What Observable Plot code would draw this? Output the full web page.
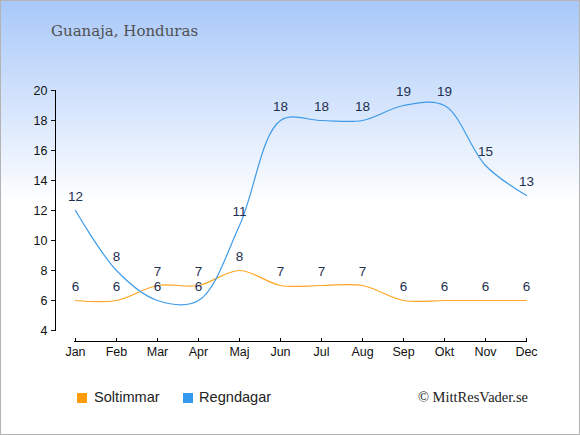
<!DOCTYPE html>
<html><head><meta charset="utf-8">
<script src="https://cdn.jsdelivr.net/npm/d3@7"></script>
<script src="https://cdn.jsdelivr.net/npm/@observablehq/plot@0.6"></script>
<style>
body{margin:0;}
#wrap{position:relative;width:580px;height:435px;overflow:hidden;background:linear-gradient(to bottom,#a8c8f9 0%,#ffffff 47%,#ffffff 100%);font-family:"Liberation Sans",Arial,sans-serif;}
#chart{position:absolute;left:0;top:0;}
#title{position:absolute;left:51px;top:22px;font-family:"DejaVu Serif",serif;font-size:15px;color:#505050;}
.sq{position:absolute;width:10px;height:10px;top:393px;}
.lt{position:absolute;top:389px;font-size:14.6px;color:#222;}
#copy{position:absolute;right:52px;top:389px;font-family:"Liberation Serif",serif;font-size:14.5px;color:#222;}
#border{position:absolute;left:0;top:0;width:580px;height:435px;box-sizing:border-box;border:1px solid #b4b4b4;pointer-events:none;}
</style></head><body>
<div id="wrap">
  <div id="chart"></div>
  <div id="title">Guanaja, Honduras</div>
  <div class="sq" style="left:77px;background:#ff9c0a"></div>
  <div class="lt" style="left:94px">Soltimmar</div>
  <div class="sq" style="left:183px;background:#3399ee"></div>
  <div class="lt" style="left:199px">Regndagar</div>
  <div id="copy">© MittResVader.se</div>
  <div id="border"></div>
</div>
<script>
const months = ["Jan","Feb","Mar","Apr","Maj","Jun","Jul","Aug","Sep","Okt","Nov","Dec"];
const soltimmar = [6,6,7,7,8,7,7,7,6,6,6,6];
const regndagar = [12,8,6,6,11,18,18,18,19,19,15,13];
const yTicks = [4,6,8,10,12,14,16,18,20];

const sol = months.map((m,i)=>({m, v: soltimmar[i]}));
const reg = months.map((m,i)=>({m, v: regndagar[i]}));
const labelColor = "#1e2f4f";

const chart = Plot.plot({
  width: 580,
  height: 435,
  marginLeft: 55,
  marginRight: 54,
  marginTop: 90,
  marginBottom: 94,
  style: {background: "transparent", fontFamily: "Liberation Sans, Arial, sans-serif"},
  x: {type: "point", domain: months, range: [74, 526], padding: 0},
  y: {domain: [4, 20], range: [330, 90]},
  marks: [
    Plot.frame({anchor: "left", insetBottom: 11, stroke: "#000"}),
    Plot.frame({anchor: "bottom", insetLeft: 19, stroke: "#000"}),
    Plot.axisY({ticks: yTicks, tickSize: 4, tickPadding: 4, fontSize: 12.5, color: "#111", label: null, tickFormat: d => d}),
    Plot.axisX({tickSize: 0, tickPadding: 6, fontSize: 12.5, color: "#111", label: null}),
    Plot.tickX(months, {x: d => d, insetTop: 248, stroke: "#000"}),
    Plot.line(sol, {x: "m", y: "v", curve: "catmull-rom", stroke: "#ffa524", strokeWidth: 1.2}),
    Plot.line(reg, {x: "m", y: "v", curve: "catmull-rom", stroke: "#3d9be9", strokeWidth: 1.2}),
    Plot.text(sol, {x: "m", y: "v", text: d => String(d.v), dy: -14, fill: labelColor, fontSize: 13.5}),
    Plot.text(reg, {x: "m", y: "v", text: d => String(d.v), dy: -14, fill: labelColor, fontSize: 13.5})
  ]
});
document.getElementById("chart").appendChild(chart);
</script>
</body></html>
